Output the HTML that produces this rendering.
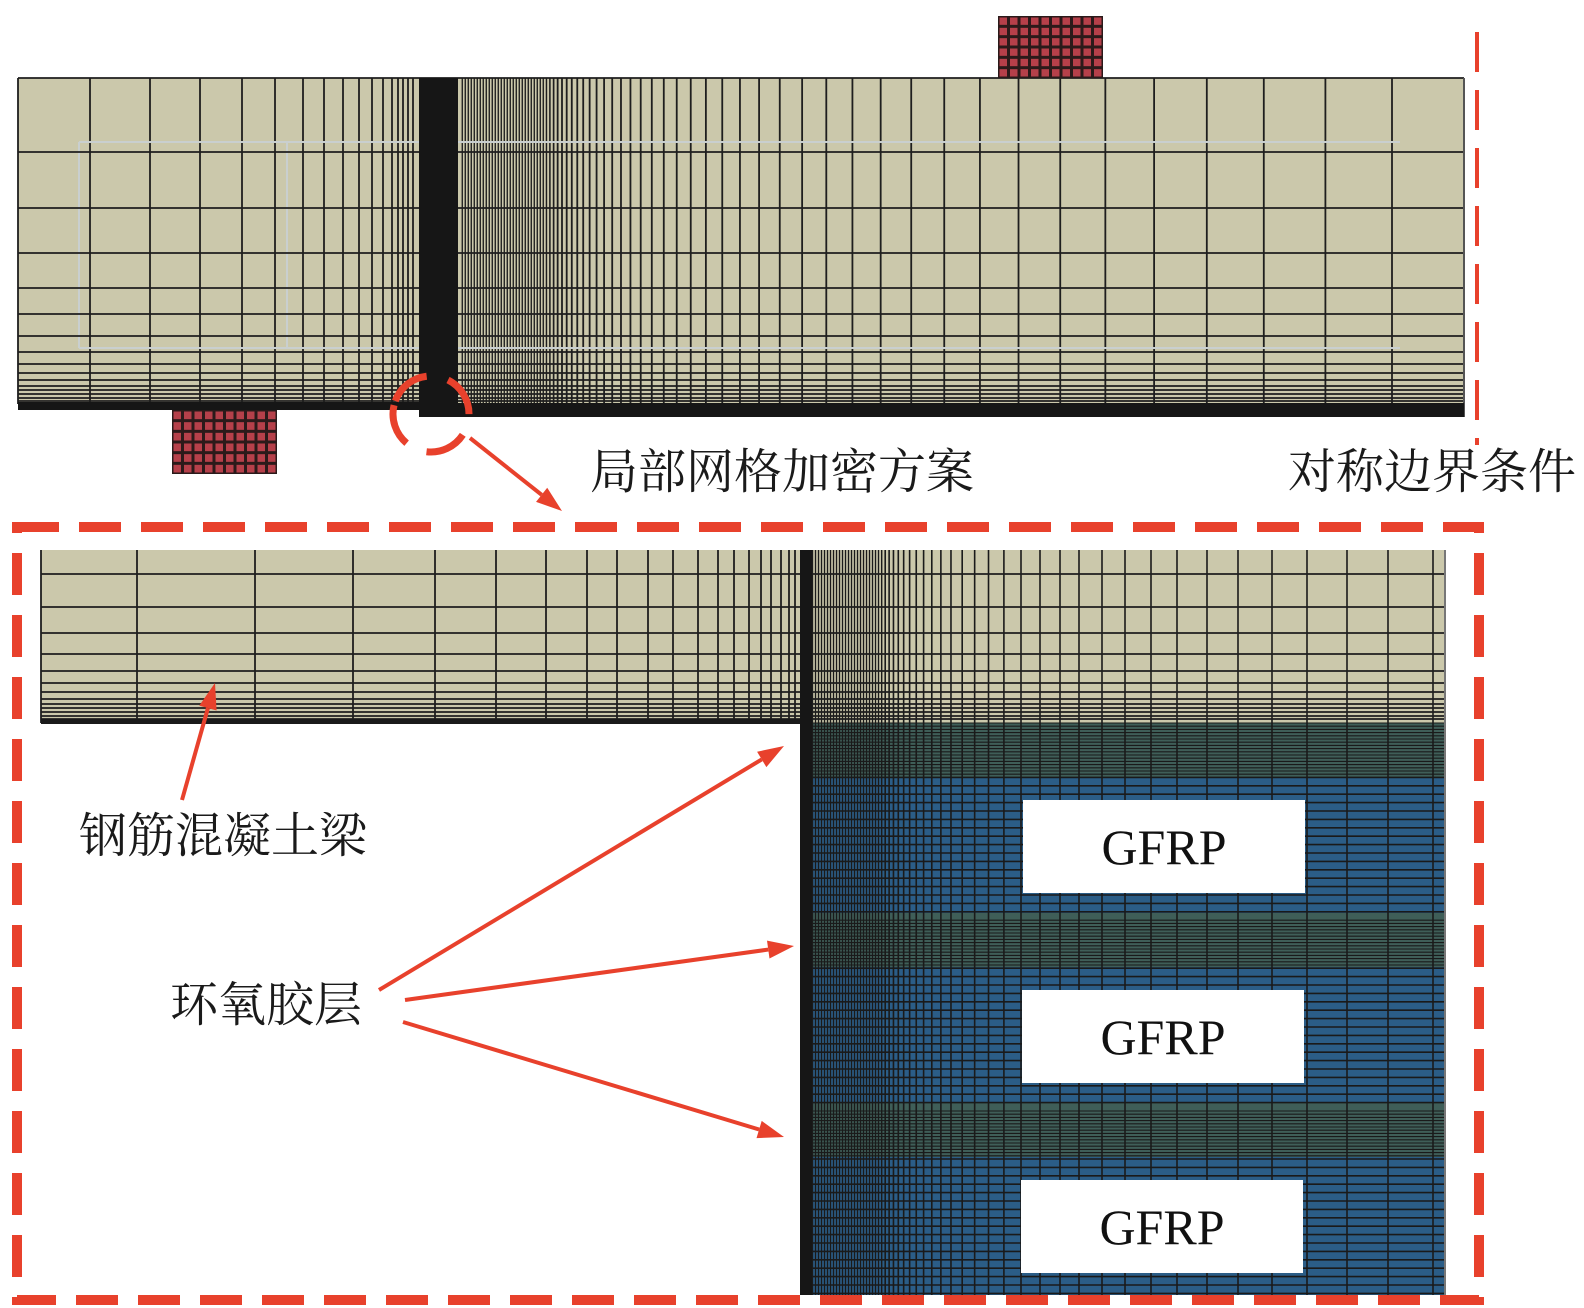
<!DOCTYPE html>
<html><head><meta charset="utf-8"><style>
html,body{margin:0;padding:0;background:#fff;width:1584px;height:1308px;overflow:hidden}
svg{display:block}
.cn{font-family:"Liberation Serif","Noto Serif CJK SC",serif;font-size:48px;fill:#1a1a1a}
.gf{font-family:"Liberation Serif",serif;font-size:50px;fill:#111}
</style></head><body>
<svg id="s" width="1584" height="1308" viewBox="0 0 1584 1308" xmlns="http://www.w3.org/2000/svg">
<g id="g"></g>
<text class="cn" x="590" y="488">局部网格加密方案</text>
<text class="cn" x="1288" y="488">对称边界条件</text>
<text class="cn" x="79" y="852">钢筋混凝土梁</text>
<text class="cn" x="170" y="1021">环氧胶层</text>
</svg>
<script>
const g=document.getElementById('g');let h='';
function L(x1,y1,x2,y2,c,w){h+=`<line x1="${x1}" y1="${y1}" x2="${x2}" y2="${y2}" stroke="${c}" stroke-width="${w}"/>`;}
function R(x,y,w,hh,c){h+=`<rect x="${x}" y="${y}" width="${w}" height="${hh}" fill="${c}"/>`;}
const LC='#1e1e1e';
R(18,78,412,332,'#cbc8ab');
R(430,78,1034,339,'#cbc8ab');
let tv=[18,90,150,200,242,275,303,324,343,359,372,383,392,398,403,408,413];
tv.forEach(x=>L(x,78,x,404,LC,1.8));
let x=1464,s=72;while(x>460){L(x,78,x,404,LC,Math.min(1.8,s*0.45));x-=s;s*=0.925;if(s<3)s=3;}
let th=[78,152,208,253,288,314,336,352,364,373,380,386,390,394,398,401];
L(79,142,1400,142,'#c9cfcf',2);L(79,348,1400,348,'#c9cfcf',2);L(79,142,79,348,'#c9cfcf',2);L(287,142,287,348,'#c9cfcf',2);
th.forEach(y=>L(18,y,1464,y,LC,1.8));
L(1464,78,1464,417,'#555',2);
R(419,78,39,339,'#161616');
R(18,402,412,8,'#161616');
R(430,403,1034,14,'#161616');
function plate(x0,y0,w,hh,nx,ny){R(x0,y0,w,hh,'#2a1a1a');const cw=w/nx,ch=hh/ny;for(let i=0;i<nx;i++)for(let j=0;j<ny;j++)R(x0+i*cw+1.5,y0+j*ch+1.5,cw-3,ch-3,'#b5404a');}
plate(998,16,105,62,10,6);
plate(172,410,105,64,10,6);
h+=`<line x1="1477" y1="32" x2="1477" y2="445" stroke="#e8412c" stroke-width="4" stroke-dasharray="40,18"/>`;
h+=`<circle cx="431" cy="414" r="38" fill="none" stroke="#e8412c" stroke-width="7" stroke-dasharray="42,22" transform="rotate(200 431 414)"/>`;
R(41,550,1404,173,'#cbc8ab');
R(812,723,633,572,'#2b5d87');
[[723,777],[913,967],[1103,1157]].forEach(b=>R(812,b[0],633,b[1]-b[0],'#3f5e58'));
for(let y=723;y<1295;){let inG=(y<777)||(y>=913&&y<967)||(y>=1103&&y<1157);L(812,y,1445,y,'#1a1a1a',inG?1.1:1.6);y+=inG?3.2:8.4;}
let bv=[1433,1388,1347,1307,1272,1238,1207,1177,1151,1125,1102,1079,1060,1040];
bv.forEach(x=>L(x,550,x,1295,'#1a1a1a',1.6));
x=1040;s=19;while(x>815){x-=s;s*=0.9;if(s<3)s=3;L(x,550,x,1295,'#1a1a1a',Math.min(1.6,s*0.45));}
let lv=[41,137,255,353,435,496,546,587,617,648,673,698,718,734,749,761,771,781,789,795];
lv.forEach(x=>L(x,550,x,723,LC,1.8));
let lh=[574,607,633,654,671,683,692,699,704,708,712,716,719];
lh.forEach(y=>L(41,y,1445,y,LC,1.8));
R(41,719,771,5,'#1a1a1a');
R(800,550,12,745,'#161616');
L(1445,550,1445,1295,'#777',2);
[[1023,800],[1022,990],[1021,1180]].forEach(b=>{R(b[0],b[1],282,93,'#fff');h+=`<text class="gf" x="${b[0]+141}" y="${b[1]+64}" text-anchor="middle">GFRP</text>`;});
h+=`<rect x="17" y="527" width="1462" height="773" fill="none" stroke="#e8412c" stroke-width="10" stroke-dasharray="42,20"/>`;
function A(x1,y1,x2,y2){const a=Math.atan2(y2-y1,x2-x1),l=26,w=9;const bx=x2-l*Math.cos(a),by=y2-l*Math.sin(a);
L(x1,y1,bx,by,'#e8412c',4);
h+=`<polygon points="${x2},${y2} ${bx+w*Math.sin(a)},${by-w*Math.cos(a)} ${bx-w*Math.sin(a)},${by+w*Math.cos(a)}" fill="#e8412c"/>`;}
A(470,438,562,511);
A(182,800,215,683);
A(379,990,784,746);
A(405,1000,794,946);
A(403,1022,784,1137);
g.innerHTML=h;
</script>
</body></html>
